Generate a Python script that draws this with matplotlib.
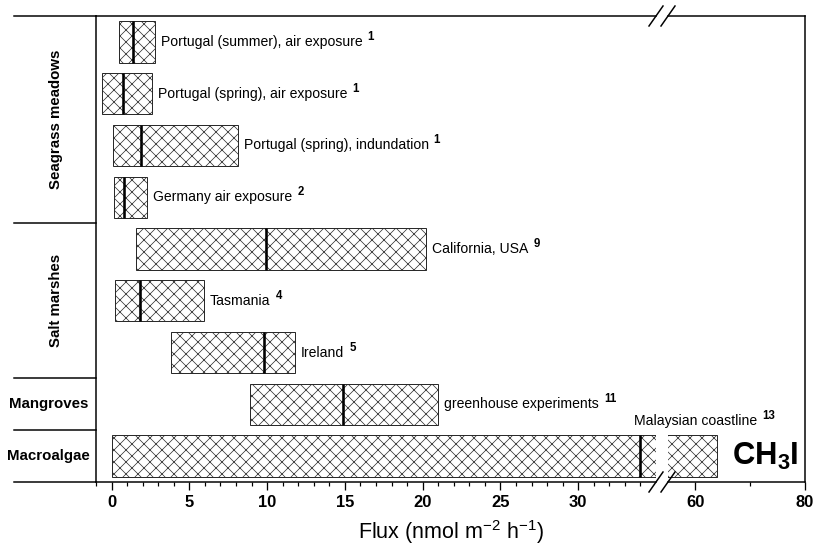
import matplotlib
matplotlib.use('Agg')
import matplotlib.pyplot as plt
from matplotlib.ticker import FixedLocator
import numpy as np

plt.rcParams['font.family'] = ['Liberation Sans', 'DejaVu Sans']
plt.rcParams['mathtext.fontset'] = 'custom'
plt.rcParams['mathtext.rm'] = 'Liberation Sans'
plt.rcParams['mathtext.bf'] = 'Liberation Sans:bold'
plt.rcParams['hatch.linewidth'] = 0.7

# flux ranges (nmol m-2 h-1), one row per study
sites = ['Portugal (summer), air exposure', 'Portugal (spring), air exposure',
         'Portugal (spring), indundation', 'Germany air exposure',
         'California, USA', 'Tasmania', 'Ireland',
         'greenhouse experiments', 'Malaysian coastline']
refs = ['1', '1', '1', '2', '9', '4', '5', '11', '13']
flux_min = [0.5, -0.6, 0.1, 0.15, 1.6, 0.25, 3.8, 8.9, 0.0]
flux_max = [2.8, 2.6, 8.1, 2.3, 20.2, 5.95, 11.8, 21.0, 64.0]
flux_median = [1.35, 0.75, 1.9, 0.8, 9.95, 1.8, 9.8, 14.9, 34.0]

groups = ['Seagrass meadows', 'Salt marshes', 'Mangroves', 'Macroalgae']
group_first = [0, 4, 7, 8]
group_last = [3, 6, 7, 8]

left_ticks = [0, 5, 10, 15, 20, 25, 30]
right_ticks = [60, 80]

DPI = 72
W, H = 814, 550
fig = plt.figure(figsize=(W / DPI, H / DPI), dpi=DPI)
ax = fig.add_axes([96 / W, 68 / H, 560 / W, 466 / H])
ax2 = fig.add_axes([668 / W, 68 / H, 137 / W, 466 / H])
ax2.patch.set_visible(False)

rows = np.arange(len(sites))
lo = np.array(flux_min)
hi = np.array(flux_max)

for a in (ax, ax2):
    a.barh(rows, hi - lo, left=lo, height=0.8, color='white',
           edgecolor='#2a2a2a', linewidth=1.0, hatch='xx')
    a.vlines(flux_median, rows - 0.4, rows + 0.4, color='black', lw=2.6)
    a.set_ylim(8.5, -0.5)
    a.set_yticks([])
    a.tick_params(axis='x', which='major', direction='out', length=8, width=1.3,
                  labelsize=16.5, pad=5)
    a.tick_params(axis='x', which='minor', direction='out', length=4, width=1.2)
    for s in a.spines.values():
        s.set_linewidth(1.5)

ax.set_xlim(-1, 35)
ax.xaxis.set_major_locator(FixedLocator(left_ticks))
ax.xaxis.set_minor_locator(FixedLocator(list(range(-1, 35))))
ax.spines['right'].set_visible(False)

ax2.set_xlim(55, 80)
ax2.xaxis.set_major_locator(FixedLocator(right_ticks))
ax2.xaxis.set_minor_locator(FixedLocator([70]))
ax2.spines['left'].set_visible(False)

for a in (ax, ax2):
    for lab in a.get_xticklabels():
        lab.set_fontweight('bold')

# site labels with reference superscripts
for i in range(len(sites)):
    if i < len(sites) - 1:
        t = ax.annotate(sites[i], xy=(flux_max[i], i), xytext=(6, 0),
                        textcoords='offset points', ha='left', va='center',
                        fontsize=14, annotation_clip=False)
    else:
        t = ax.annotate(sites[i], xy=(33.6, i - 0.4), xytext=(0, 7),
                        textcoords='offset points', ha='left', va='bottom',
                        fontsize=14, annotation_clip=False)
    t.set_clip_on(False)
    s = ax.annotate(refs[i], xy=(1, 1), xycoords=t, xytext=(5, 4),
                    textcoords='offset points', ha='left', va='top',
                    fontsize=11.5, fontweight='bold', annotation_clip=False)
    s.set_clip_on(False)

# group labels on the left
trans = ax.get_yaxis_transform()
for yb in [-0.5, 3.5, 6.5, 7.5, 8.5]:
    ax.plot([-82 / 560, 0], [yb, yb], transform=trans, color='black',
            lw=1.5, clip_on=False)
for g, f, l in zip(groups, group_first, group_last):
    yc = (f + l) / 2
    if l > f:
        ax.text(-40 / 560, yc, g, transform=trans, rotation=90, ha='center',
                va='center', fontsize=15, fontweight='bold')
    else:
        ax.text(-47.5 / 560, yc, g, transform=trans, ha='center',
                va='center', fontsize=15, fontweight='bold')

ax2.text(72.7, 8, r'$\mathbf{CH_{3}I}$', ha='center', va='center', fontsize=31)

# break marks
dx, dy = 7 / W, 10 / H
p1 = ax.get_position()
p2 = ax2.get_position()
for xc in (p1.x1, p2.x0):
    for yc in (p1.y0, p1.y1):
        fig.add_artist(plt.Line2D([xc - dx, xc + dx], [yc - dy, yc + dy],
                                  transform=fig.transFigure, color='black', lw=1.5))

fig.text(450.5 / W, 1 - 532 / H, r'Flux (nmol m$^{-2}$ h$^{-1}$)', ha='center',
         va='center', fontsize=21.5)

fig.savefig('out.png', dpi=DPI)
